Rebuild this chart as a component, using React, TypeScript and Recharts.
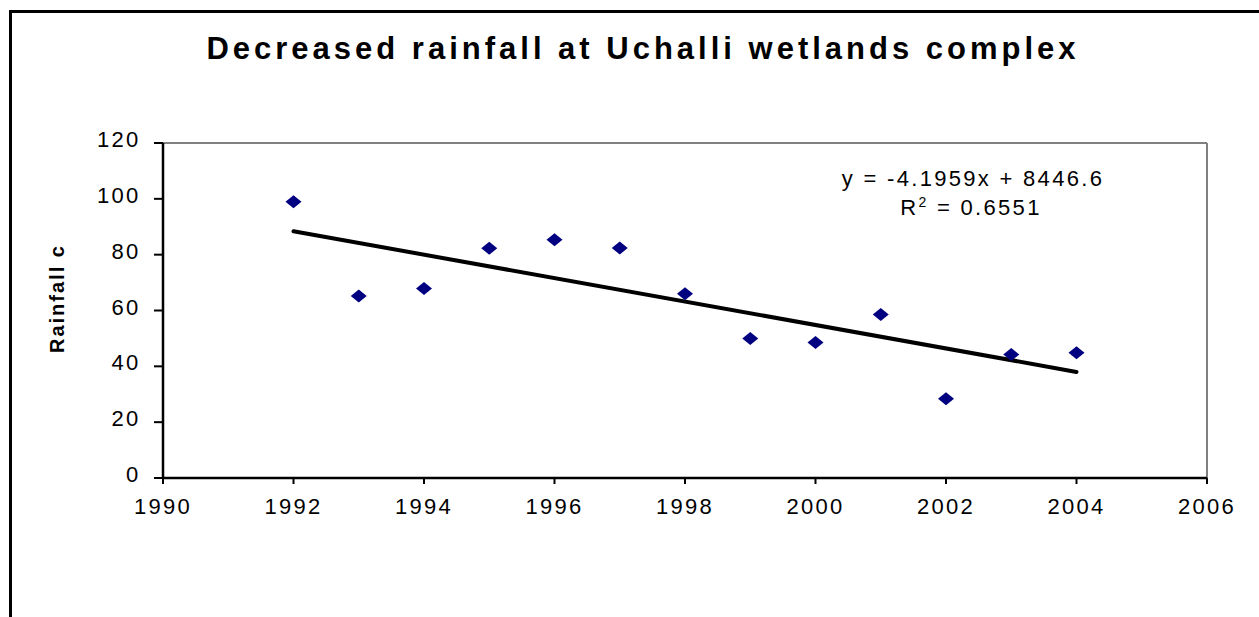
import React from 'react';
import {
  ScatterChart,
  Scatter,
  XAxis,
  YAxis,
  ReferenceLine,
} from 'recharts';

// ---- data ----
const years = [1992, 1993, 1994, 1995, 1996, 1997, 1998, 1999, 2000, 2001, 2002, 2003, 2004];
const rainfall = [99.0, 65.2, 67.9, 82.3, 85.3, 82.4, 66.0, 50.0, 48.5, 58.6, 28.4, 44.2, 44.9];
const trendYears = [1992, 2004];
const trendValues = [88.4, 38.0];
const xTicks = [1990, 1992, 1994, 1996, 1998, 2000, 2002, 2004, 2006];
const yTicks = [0, 20, 40, 60, 80, 100, 120];
const titleText = 'Decreased rainfall at Uchalli wetlands complex';
const yLabelText = 'Rainfall c';
const equationText = 'y = -4.1959x + 8446.6';
const r2Value = '0.6551';

const points = years.map((x, i) => ({ x, y: rainfall[i] }));
const trend = trendYears.map((x, i) => ({ x, y: trendValues[i] }));

const FONT = '"Liberation Sans", Arial, sans-serif';

const Diamond = (props: any) => {
  const { cx, cy } = props;
  if (cx == null || cy == null) return <g />;
  const w = 8;
  const h = 6.5;
  return (
    <polygon
      points={`${cx - w},${cy} ${cx},${cy - h} ${cx + w},${cy} ${cx},${cy + h}`}
      fill="#000080"
    />
  );
};

const NoShape = () => <g />;

const YTick = (props: any) => {
  const { x, y, payload } = props;
  return (
    <text
      x={x - 13.5}
      y={y + 4}
      textAnchor="end"
      fontFamily={FONT}
      fontSize={22}
      letterSpacing={2.3}
      fill="#000"
    >
      {payload.value}
    </text>
  );
};

const XTick = (props: any) => {
  const { x, y, payload } = props;
  return (
    <text
      x={x}
      y={y + 30}
      textAnchor="middle"
      fontFamily={FONT}
      fontSize={22}
      letterSpacing={2.3}
      fill="#000"
    >
      {payload.value}
    </text>
  );
};

export default function App() {
  return (
    <div
      style={{
        position: 'absolute',
        left: 0,
        top: 0,
        width: 1259,
        height: 617,
        overflow: 'hidden',
        background: '#fff',
      }}
    >
      <ScatterChart
        width={1259}
        height={617}
        margin={{ top: 143, right: 52, bottom: 109, left: 103 }}
      >
        <XAxis
          type="number"
          dataKey="x"
          domain={[1990, 2006]}
          ticks={xTicks}
          interval={0}
          axisLine={{ stroke: '#000', strokeWidth: 2.5 }}
          tickLine={{ stroke: '#000', strokeWidth: 2 }}
          tickSize={6}
          tickMargin={0}
          height={30}
          tick={<XTick />}
        />
        <YAxis
          type="number"
          dataKey="y"
          domain={[0, 120]}
          ticks={yTicks}
          interval={0}
          axisLine={{ stroke: '#000', strokeWidth: 2.5 }}
          tickLine={{ stroke: '#000', strokeWidth: 2 }}
          tickSize={9}
          tickMargin={0}
          width={60}
          tick={<YTick />}
        />
        <ReferenceLine y={120} stroke="#808080" strokeWidth={2} />
        <ReferenceLine x={2006} stroke="#808080" strokeWidth={2} />
        <Scatter
          data={trend}
          line={{ stroke: '#000', strokeWidth: 4, strokeLinecap: 'round' }}
          shape={<NoShape />}
          isAnimationActive={false}
        />
        <Scatter data={points} shape={<Diamond />} isAnimationActive={false} />
      </ScatterChart>

      <svg
        width={1259}
        height={617}
        style={{ position: 'absolute', left: 0, top: 0, pointerEvents: 'none' }}
      >
        <rect x={9} y={10} width={1250} height={3} fill="#000" />
        <rect x={9} y={10} width={3} height={607} fill="#000" />
        <text
          x={643}
          y={59}
          textAnchor="middle"
          fontFamily={FONT}
          fontWeight="bold"
          fontSize={31}
          letterSpacing={4}
          fill="#000"
        >
          {titleText}
        </text>
        <text
          x={973}
          y={186}
          textAnchor="middle"
          fontFamily={FONT}
          fontSize={22}
          letterSpacing={2.3}
          fill="#000"
        >
          {equationText}
        </text>
        <text
          x={971}
          y={215}
          textAnchor="middle"
          fontFamily={FONT}
          fontSize={22}
          letterSpacing={2.3}
          fill="#000"
        >
          R<tspan fontSize={14} dy={-8}>2</tspan>
          <tspan dy={8}>{' = ' + r2Value}</tspan>
        </text>
        <text
          transform="translate(64,353) rotate(-90)"
          x={0}
          y={0}
          textAnchor="start"
          fontFamily={FONT}
          fontWeight="bold"
          fontSize={20}
          letterSpacing={2}
          fill="#000"
        >
          {yLabelText}
        </text>
      </svg>
    </div>
  );
}
